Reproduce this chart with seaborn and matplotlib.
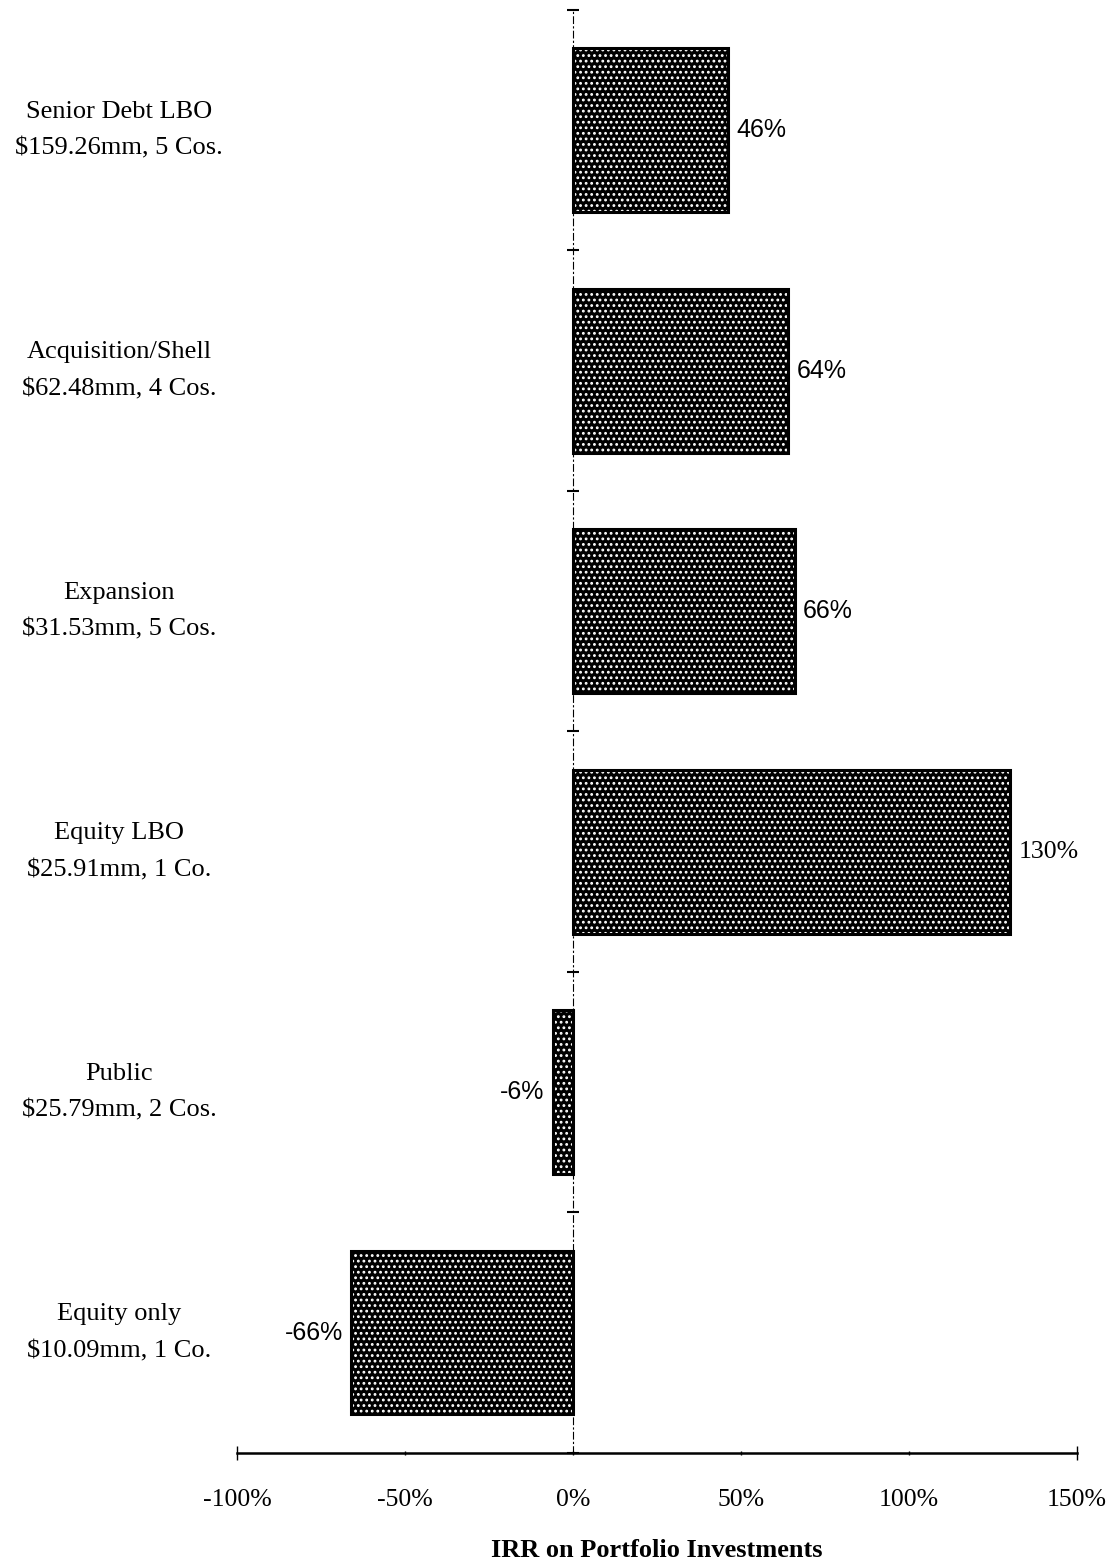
import matplotlib
matplotlib.use("Agg")
import matplotlib.pyplot as plt
import matplotlib.transforms as mtransforms
from matplotlib.patches import Rectangle
import seaborn as sns
import pandas as pd
import numpy as np

# Portfolio segments, their invested capital, and IRR (%)
segments = ["Senior Debt LBO", "Acquisition/Shell", "Expansion",
            "Equity LBO", "Public", "Equity only"]
capital = ["$159.26mm, 5 Cos.", "$62.48mm, 4 Cos.", "$31.53mm, 5 Cos.",
           "$25.91mm, 1 Co.", "$25.79mm, 2 Cos.", "$10.09mm, 1 Co."]
irr = [46, 64, 66, 130, -6, -66]
x_ticks = [-100, -50, 0, 50, 100, 150]
x_tick_labels = ["-100%", "-50%", "0%", "50%", "100%", "150%"]

df = pd.DataFrame({"segment": segments, "irr": irr})

sns.set_style("white")
plt.rcParams["font.family"] = ["Liberation Serif", "DejaVu Serif"]
plt.rcParams["hatch.linewidth"] = 1.25
plt.rcParams["text.color"] = "black"
plt.rcParams["axes.labelcolor"] = "black"
plt.rcParams["xtick.color"] = "black"
plt.rcParams["ytick.color"] = "black"

fig = plt.figure(figsize=(11.15, 15.62), dpi=100)
ax = fig.add_axes([0.2126, 0.0698, 0.7534, 0.9238])

sns.barplot(data=df, x="irr", y="segment", orient="h", color="black",
            width=0.68, ax=ax, saturation=1)

# dotted screen fill: black face with white dot hatch, black outline on top
bars = ax.containers[0]
for p in bars:
    p.set_facecolor("black")
    p.set_edgecolor("white")
    p.set_hatch("...")
    p.set_linewidth(0)
    ax.add_patch(Rectangle(p.get_xy(), p.get_width(), p.get_height(),
                           fill=False, edgecolor="black", linewidth=2.2,
                           zorder=p.get_zorder() + 0.1))

ax.set_xlim(-100, 150)
ax.set_ylim(5.5, -0.5)

# value labels
texts = ax.bar_label(bars, labels=[f"{v}%" for v in irr], padding=6,
                     fontsize=18, color="black",
                     family=["Liberation Sans", "DejaVu Sans"])
for t, v in zip(texts, irr):
    if v >= 100:
        t.set_family(["Liberation Serif", "DejaVu Serif"])
        t.set_fontsize(18.5)

# axes styling: zero line as dash-dot spine, bottom axis line
for side in ("top", "right"):
    ax.spines[side].set_visible(False)
ax.spines["left"].set_position(("data", 0))
ax.spines["left"].set_linestyle((0, (6, 3, 1, 3)))
ax.spines["left"].set_linewidth(0.8)
ax.spines["left"].set_color("black")
ax.spines["bottom"].set_linewidth(1.8)
ax.spines["bottom"].set_color("black")

ax.set_yticks(np.arange(-0.5, 6.0, 1.0))
ax.set_yticklabels([])
ax.tick_params(axis="y", which="major", direction="inout", length=9,
               width=1.5, color="black", left=True)

ax.set_xticks(x_ticks)
ax.set_xticklabels(x_tick_labels, fontsize=18.5)
ax.tick_params(axis="x", which="major", direction="inout", length=10,
               width=1.0, color="black", labelcolor="black", pad=21,
               bottom=True)
for tk, val in zip(ax.xaxis.get_major_ticks(), x_ticks):
    if val not in (x_ticks[0], x_ticks[-1]):
        tk.tick1line.set_markersize(3)

ax.set_ylabel("")
ax.set_xlabel("IRR on Portfolio Investments", fontsize=19,
              fontweight="bold", labelpad=20, color="black")

# two-line category labels in the left margin
trans = mtransforms.blended_transform_factory(fig.transFigure, ax.transData)
for i, (seg, cap) in enumerate(zip(segments, capital)):
    ax.text(119 / 1115, i, f"{seg}\n{cap}", transform=trans, ha="center",
            va="center", fontsize=19, linespacing=1.85, color="black",
            clip_on=False)

fig.savefig("out.png", dpi=100)
